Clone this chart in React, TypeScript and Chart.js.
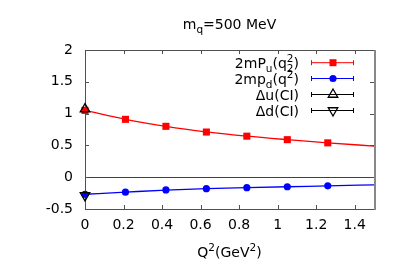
import React, { useEffect, useRef } from "react";
import { Chart, registerables } from "chart.js";

Chart.register(...registerables);

// ---- data ----
const qSquared = [0, 0.21, 0.42, 0.63, 0.84, 1.05, 1.26];
const fitQSquared = [0, 0.21, 0.42, 0.63, 0.84, 1.05, 1.26, 1.5];
const pUValues = [1.05, 0.91, 0.8, 0.71, 0.645, 0.59, 0.54];
const pUFit = [1.05, 0.91, 0.8, 0.713, 0.645, 0.59, 0.54, 0.49];
const pDValues = [-0.27, -0.235, -0.2, -0.18, -0.165, -0.15, -0.135];
const pDFit = [-0.268, -0.235, -0.203, -0.181, -0.165, -0.15, -0.137, -0.12];
const ciQSquared = [0];
const deltaUCI = [1.07];
const deltaDCI = [-0.285];
const xTicks = [0, 0.2, 0.4, 0.6, 0.8, 1, 1.2, 1.4];
const yTicks = [-0.5, 0, 0.5, 1, 1.5, 2];

const FONT = '"DejaVu Sans", sans-serif';
const BIG = 14;
const SMALL = 10.5;

type Part = { t: string; k?: "sub" | "sup" | "both"; t2?: string };

const titleParts: Part[] = [{ t: "m" }, { t: "q", k: "sub" }, { t: "=500 MeV" }];
const xTitleParts: Part[] = [{ t: "Q" }, { t: "2", k: "sup" }, { t: "(GeV" }, { t: "2", k: "sup" }, { t: ")" }];

const legendItems: { parts: Part[]; color: string; marker: string }[] = [
  { parts: [{ t: "2mP" }, { t: "u", k: "sub" }, { t: "(q" }, { t: "2", k: "both", t2: "2" }, { t: ")" }], color: "#ff0000", marker: "rect" },
  { parts: [{ t: "2mp" }, { t: "d", k: "sub" }, { t: "(q" }, { t: "2", k: "sup" }, { t: ")" }], color: "#0000ff", marker: "circle" },
  { parts: [{ t: "\u0394u(CI)" }], color: "#000000", marker: "up" },
  { parts: [{ t: "\u0394d(CI)" }], color: "#000000", marker: "down" },
];

function partWidth(ctx: CanvasRenderingContext2D, p: Part) {
  if (!p.k) {
    ctx.font = `${BIG}px ${FONT}`;
    return ctx.measureText(p.t).width;
  }
  ctx.font = `${SMALL}px ${FONT}`;
  const w1 = ctx.measureText(p.t).width;
  const w2 = p.t2 ? ctx.measureText(p.t2).width : 0;
  return Math.max(w1, w2);
}

function drawRich(ctx: CanvasRenderingContext2D, parts: Part[], x: number, baseline: number, align: "left" | "center" | "right") {
  const total = parts.reduce((s, p) => s + partWidth(ctx, p), 0);
  let cx = align === "left" ? x : align === "center" ? x - total / 2 : x - total;
  ctx.save();
  ctx.fillStyle = "#000";
  ctx.textAlign = "left";
  ctx.textBaseline = "alphabetic";
  for (const p of parts) {
    const w = partWidth(ctx, p);
    if (!p.k) {
      ctx.font = `${BIG}px ${FONT}`;
      ctx.fillText(p.t, cx, baseline);
    } else {
      ctx.font = `${SMALL}px ${FONT}`;
      if (p.k === "sub") ctx.fillText(p.t, cx, baseline + 4);
      else if (p.k === "sup") ctx.fillText(p.t, cx, baseline - 6);
      else {
        ctx.fillText(p.t, cx, baseline - 6);
        ctx.fillText(p.t2 || "", cx, baseline + 4);
      }
    }
    cx += w;
  }
  ctx.restore();
}

function drawMarker(ctx: CanvasRenderingContext2D, kind: string, x: number, y: number, color: string) {
  ctx.save();
  ctx.fillStyle = color;
  ctx.strokeStyle = color;
  ctx.lineWidth = 1.3;
  ctx.beginPath();
  if (kind === "rect") {
    ctx.rect(x - 3.5, y - 3.5, 7, 7);
    ctx.fill();
  } else if (kind === "circle") {
    ctx.arc(x, y, 3.6, 0, Math.PI * 2);
    ctx.fill();
  } else {
    const r = 5.5;
    const s = kind === "up" ? 1 : -1;
    ctx.moveTo(x, y - s * r);
    ctx.lineTo(x + r * 0.866, y + s * r * 0.5);
    ctx.lineTo(x - r * 0.866, y + s * r * 0.5);
    ctx.closePath();
    ctx.stroke();
  }
  ctx.restore();
}

const framePlugin = {
  id: "gnuFrame",
  beforeDatasetsDraw(chart: any) {
    const { ctx, chartArea: a, scales } = chart;
    const x = scales.x;
    const y = scales.y;
    ctx.save();
    // zero axis
    const y0 = Math.round(y.getPixelForValue(0)) + 0.5;
    ctx.strokeStyle = "#404040";
    ctx.lineWidth = 1;
    ctx.beginPath();
    ctx.moveTo(a.left, y0);
    ctx.lineTo(a.right, y0);
    ctx.stroke();
    // border
    ctx.strokeStyle = "#505050";
    ctx.lineWidth = 1;
    ctx.strokeRect(Math.round(a.left) + 0.5, Math.round(a.top) + 0.5, Math.round(a.right - a.left), Math.round(a.bottom - a.top));
    ctx.strokeStyle = "#888888";
    ctx.lineWidth = 2;
    ctx.beginPath();
    ctx.moveTo(Math.round(a.right) + 1, a.top);
    ctx.lineTo(Math.round(a.right) + 1, a.bottom + 1);
    ctx.stroke();
    // inward ticks
    ctx.strokeStyle = "#505050";
    ctx.lineWidth = 1;
    const tl = 4;
    ctx.beginPath();
    for (const v of xTicks) {
      const px = Math.round(x.getPixelForValue(v)) + 0.5;
      ctx.moveTo(px, a.bottom);
      ctx.lineTo(px, a.bottom - tl);
      ctx.moveTo(px, a.top);
      ctx.lineTo(px, a.top + tl);
    }
    for (const v of yTicks) {
      const py = Math.round(y.getPixelForValue(v)) + 0.5;
      ctx.moveTo(a.left, py);
      ctx.lineTo(a.left + tl, py);
      ctx.moveTo(a.right, py);
      ctx.lineTo(a.right - tl, py);
    }
    ctx.stroke();
    ctx.restore();
  },
  afterDraw(chart: any) {
    const { ctx, chartArea: a } = chart;
    const cx = (a.left + a.right) / 2;
    drawRich(ctx, titleParts, cx, 29, "center");
    drawRich(ctx, xTitleParts, cx, 257, "center");
    // legend
    const textRight = 299;
    const lineL = 311;
    const lineR = 354;
    const mX = 333;
    const rows = [62.7, 78.5, 94.5, 110.5];
    legendItems.forEach((it, i) => {
      const ry = rows[i];
      drawRich(ctx, it.parts, textRight, ry + 5.3, "right");
      ctx.save();
      ctx.strokeStyle = it.color;
      ctx.lineWidth = 1;
      ctx.beginPath();
      ctx.moveTo(lineL, ry);
      ctx.lineTo(lineR, ry);
      ctx.moveTo(lineL + 0.5, ry - 2.5);
      ctx.lineTo(lineL + 0.5, ry + 2.5);
      ctx.moveTo(lineR - 0.5, ry - 2.5);
      ctx.lineTo(lineR - 0.5, ry + 2.5);
      ctx.stroke();
      ctx.restore();
      drawMarker(ctx, it.marker, mX, ry, it.color);
    });
  },
};

export default function App() {
  const ref = useRef<HTMLCanvasElement | null>(null);
  useEffect(() => {
    if (!ref.current) return;
    const toXY = (xs: number[], ys: number[]) => xs.map((x, i) => ({ x, y: ys[i] }));
    const chart = new Chart(ref.current, {
      type: "scatter",
      data: {
        datasets: [
          {
            label: "\u0394u(CI)",
            data: toXY(ciQSquared, deltaUCI),
            pointStyle: "triangle",
            pointRadius: 5.5,
            borderColor: "#000",
            backgroundColor: "rgba(0,0,0,0)",
            borderWidth: 1.3,
            showLine: false,
            clip: false,
            order: 0,
          },
          {
            label: "\u0394d(CI)",
            data: toXY(ciQSquared, deltaDCI),
            pointStyle: "triangle",
            pointRotation: 180,
            pointRadius: 5.5,
            borderColor: "#000",
            backgroundColor: "rgba(0,0,0,0)",
            borderWidth: 1.3,
            showLine: false,
            clip: false,
            order: 0,
          },
          {
            label: "2mPu points",
            data: toXY(qSquared, pUValues),
            pointStyle: "rect",
            pointRadius: 5,
            backgroundColor: "#ff0000",
            borderColor: "#ff0000",
            borderWidth: 0,
            showLine: false,
            clip: false,
            order: 1,
          },
          {
            label: "2mpd points",
            data: toXY(qSquared, pDValues),
            pointStyle: "circle",
            pointRadius: 3.6,
            backgroundColor: "#0000ff",
            borderColor: "#0000ff",
            borderWidth: 0,
            showLine: false,
            clip: false,
            order: 1,
          },
          {
            label: "2mPu fit",
            data: toXY(fitQSquared, pUFit),
            pointRadius: 0,
            borderColor: "#ff0000",
            borderWidth: 1.3,
            showLine: true,
            cubicInterpolationMode: "monotone",
            order: 2,
          },
          {
            label: "2mpd fit",
            data: toXY(fitQSquared, pDFit),
            pointRadius: 0,
            borderColor: "#0000ff",
            borderWidth: 1.3,
            showLine: true,
            cubicInterpolationMode: "monotone",
            order: 2,
          },
        ],
      },
      options: {
        responsive: false,
        animation: false,
        devicePixelRatio: 1,
        layout: { padding: { top: 50, right: 25, left: 0, bottom: 0 } },
        plugins: { legend: { display: false }, tooltip: { enabled: false }, title: { display: false } },
        scales: {
          x: {
            type: "linear",
            min: 0,
            max: 1.5,
            grid: { display: false, drawTicks: false },
            border: { display: false },
            afterBuildTicks: (s: any) => {
              s.ticks = xTicks.map((v) => ({ value: v }));
            },
            afterFit: (s: any) => {
              s.height = 70;
            },
            ticks: {
              autoSkip: false,
              maxRotation: 0,
              padding: 8,
              color: "#000",
              font: { family: FONT, size: BIG },
              callback: (v: any) => String(v),
            },
          },
          y: {
            type: "linear",
            min: -0.5,
            max: 2,
            grid: { display: false, drawTicks: false },
            border: { display: false },
            afterBuildTicks: (s: any) => {
              s.ticks = yTicks.map((v) => ({ value: v }));
            },
            afterFit: (s: any) => {
              s.width = 85;
            },
            ticks: {
              autoSkip: false,
              padding: 12,
              color: "#000",
              font: { family: FONT, size: BIG },
              callback: (v: any) => String(v),
            },
          },
        },
      },
      plugins: [framePlugin],
    } as any);
    return () => chart.destroy();
  }, []);
  return (
    <div style={{ position: "absolute", left: 0, top: 0, width: 399, height: 279, background: "#fff" }}>
      <canvas ref={ref} width={399} height={279} style={{ width: 399, height: 279 }} />
    </div>
  );
}
